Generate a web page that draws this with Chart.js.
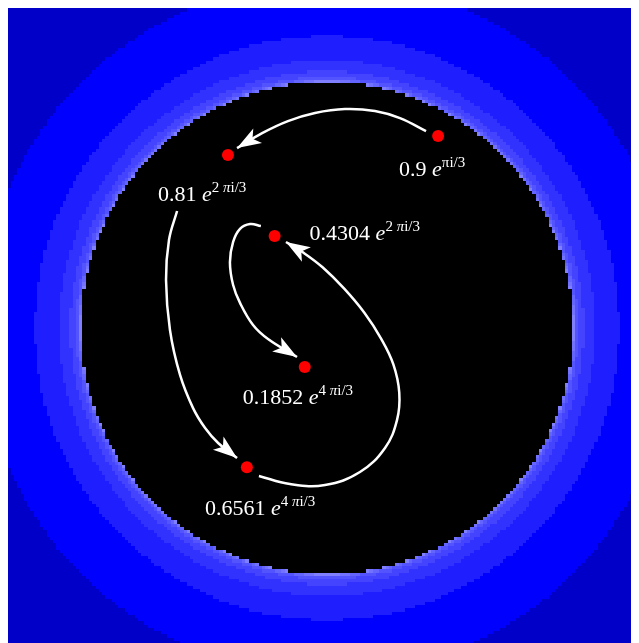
<!DOCTYPE html>
<html>
<head>
<meta charset="utf-8">
<script src="https://cdn.jsdelivr.net/npm/chart.js@4/dist/chart.umd.min.js"></script>
<style>
  body { margin: 8px; background: #fff; overflow: hidden; }
  #orbit { display: block; }
</style>
</head>
<body>
<canvas id="orbit" width="639" height="639"></canvas>
<script>
// orbit of z -> z^2 starting at 0.9 e^(pi i/3)
var moduli = [0.9, 0.81, 0.6561, 0.4304, 0.1852];
var angleThirds = [1, 2, 4, 2, 4]; // angle = k * pi / 3

// arrows between orbit points, drawn in the complex plane (last point = tip)
var arrow1 = [[0.401, 0.799], [0.295, 0.852], [0.193, 0.881], [0.071, 0.889], [-0.051, 0.873], [-0.161, 0.840], [-0.266, 0.791], [-0.368, 0.730]];
var arrow2 = [[-0.612, 0.474], [-0.645, 0.356], [-0.657, 0.193], [-0.641, -0.010], [-0.600, -0.193], [-0.547, -0.328], [-0.498, -0.409], [-0.445, -0.470], [-0.368, -0.531]];
var arrow3 = [[-0.279, -0.604], [-0.153, -0.637], [-0.010, -0.641], [0.132, -0.588], [0.234, -0.490], [0.283, -0.376], [0.292, -0.265], [0.268, -0.150], [0.218, -0.045], [0.150, 0.060], [0.068, 0.158], [-0.020, 0.245], [-0.096, 0.303], [-0.169, 0.348]];
var arrow4 = [[-0.271, 0.413], [-0.315, 0.421], [-0.356, 0.401], [-0.384, 0.348], [-0.397, 0.266], [-0.384, 0.173], [-0.356, 0.100], [-0.303, 0.010], [-0.242, -0.047], [-0.124, -0.120]];

var planeMin = -1.3;
var planeMax = 1.3;

// escape-time colours, index = iterations before |z| > 2
var bandColors = ['#0000c8', '#0000c8', '#0000ff', '#1e1eff', '#3232ff', '#4444ff', '#5454ff', '#6464ff', '#7272ff', '#8080ff'];

var orbitPoints = moduli.map(function(r, i) {
  var a = angleThirds[i] * Math.PI / 3;
  return { x: r * Math.cos(a), y: r * Math.sin(a) };
});

function toXY(arr) {
  return arr.map(function(p) { return { x: p[0], y: p[1] }; });
}

// label: modulus, italic e, superscript exponent
function labelParts(i) {
  var k = angleThirds[i];
  var parts = [
    { t: String(moduli[i]) + ' ', f: '22px "Liberation Serif"', dy: 0 },
    { t: 'e', f: 'italic 22px "Liberation Serif"', dy: 0 }
  ];
  if (k !== 1) {
    parts.push({ t: k + ' ', f: '15px "Liberation Serif"', dy: -9 });
    parts.push({ t: '\u03c0', f: 'italic 15px "Liberation Serif"', dy: -9 });
  } else {
    parts.push({ t: '\u03c0', f: '15px "Liberation Serif"', dy: -9 });
  }
  parts.push({ t: 'i/3', f: '15px "Liberation Serif"', dy: -9 });
  return parts;
}
// text position relative to its point: left edge, baseline
var labelOffsets = [[-39, 40], [-70, 46], [-42, 48], [35, 4], [-62, 37]];

var escapeField = {
  id: 'escapeField',
  beforeDatasetsDraw: function(chart) {
    var ctx = chart.ctx;
    var xs = chart.scales.x, ys = chart.scales.y;
    var n = 196;
    var step = (planeMax - planeMin) / n;
    ctx.save();
    for (var i = 0; i < n; i++) {
      var x0 = planeMin + i * step;
      var px0 = Math.floor(xs.getPixelForValue(x0));
      var px1 = Math.ceil(xs.getPixelForValue(x0 + step));
      for (var j = 0; j < n; j++) {
        var y0 = planeMin + j * step;
        var zr = x0 + step / 2, zi = y0 + step / 2;
        var it = 0;
        while (zr * zr + zi * zi <= 4 && it < 40) {
          var t = zr * zr - zi * zi;
          zi = 2 * zr * zi;
          zr = t;
          it++;
        }
        ctx.fillStyle = it >= 40 ? '#000' : bandColors[Math.min(it, bandColors.length - 1)];
        var py1 = Math.floor(ys.getPixelForValue(y0 + step));
        var py0 = Math.ceil(ys.getPixelForValue(y0));
        ctx.fillRect(px0, py1, px1 - px0, py0 - py1);
      }
    }
    ctx.restore();
  }
};

var arrowHeads = {
  id: 'arrowHeads',
  afterDatasetsDraw: function(chart) {
    var ctx = chart.ctx;
    var xs = chart.scales.x, ys = chart.scales.y;
    ctx.save();
    ctx.fillStyle = '#fff';
    chart.data.datasets.forEach(function(ds) {
      if (!ds.arrow) return;
      var d = ds.data;
      var a = d[d.length - 2], b = d[d.length - 1];
      var ax = xs.getPixelForValue(a.x), ay = ys.getPixelForValue(a.y);
      var bx = xs.getPixelForValue(b.x), by = ys.getPixelForValue(b.y);
      var len = Math.hypot(bx - ax, by - ay);
      var ux = (bx - ax) / len, uy = (by - ay) / len;
      var nx = -uy, ny = ux;
      var L = 24, W = 8.5, notch = 6;
      ctx.beginPath();
      ctx.moveTo(bx, by);
      ctx.lineTo(bx - L * ux + W * nx, by - L * uy + W * ny);
      ctx.lineTo(bx - (L - notch) * ux, by - (L - notch) * uy);
      ctx.lineTo(bx - L * ux - W * nx, by - L * uy - W * ny);
      ctx.closePath();
      ctx.fill();
    });
    // labels
    ctx.fillStyle = '#fff';
    ctx.textBaseline = 'alphabetic';
    orbitPoints.forEach(function(p, i) {
      var x = xs.getPixelForValue(p.x) + labelOffsets[i][0];
      var y = ys.getPixelForValue(p.y) + labelOffsets[i][1];
      labelParts(i).forEach(function(part) {
        ctx.font = part.f;
        ctx.fillText(part.t, x, y + part.dy);
        x += ctx.measureText(part.t).width;
      });
    });
    ctx.restore();
  }
};

function arrowDataset(path) {
  return {
    type: 'line',
    data: toXY(path),
    arrow: true,
    borderColor: '#fff',
    borderWidth: 2.5,
    pointRadius: 0,
    tension: 0.4,
    fill: false,
    order: 2
  };
}

var config = {
  type: 'scatter',
  data: {
    datasets: [
      arrowDataset(arrow1),
      arrowDataset(arrow2),
      arrowDataset(arrow3),
      arrowDataset(arrow4),
      {
        data: orbitPoints,
        backgroundColor: '#ff0000',
        borderWidth: 0,
        pointRadius: 6,
        order: 1
      }
    ]
  },
  options: {
    responsive: false,
    animation: false,
    devicePixelRatio: 1,
    layout: { padding: 0, autoPadding: false },
    scales: {
      x: { type: 'linear', min: planeMin, max: planeMax, display: false },
      y: { type: 'linear', min: planeMin, max: planeMax, display: false }
    },
    plugins: {
      legend: { display: false },
      tooltip: { enabled: false }
    }
  },
  plugins: [escapeField, arrowHeads]
};

var chart_orbit = new Chart(document.getElementById('orbit'), config);
</script>
</body>
</html>
